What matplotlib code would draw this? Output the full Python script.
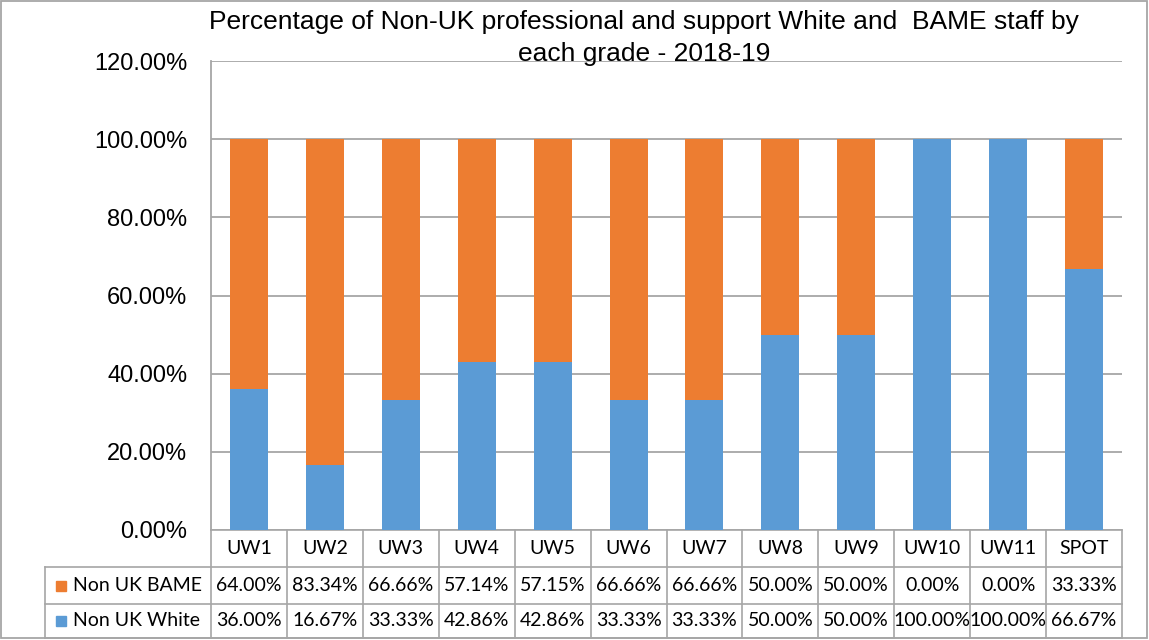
import matplotlib
matplotlib.use("Agg")
import matplotlib.pyplot as plt
import matplotlib.transforms as mtransforms
from matplotlib.patches import Rectangle
from matplotlib.lines import Line2D
from matplotlib.ticker import FuncFormatter

# data (percent)
grades = ["UW1", "UW2", "UW3", "UW4", "UW5", "UW6", "UW7", "UW8", "UW9", "UW10", "UW11", "SPOT"]
non_uk_white = [36.00, 16.67, 33.33, 42.86, 42.86, 33.33, 33.33, 50.00, 50.00, 100.00, 100.00, 66.67]
non_uk_bame = [64.00, 83.34, 66.66, 57.14, 57.15, 66.66, 66.66, 50.00, 50.00, 0.00, 0.00, 33.33]
series_names = ["Non UK BAME", "Non UK White"]
title = "Percentage of Non-UK professional and support White and  BAME staff by\neach grade - 2018-19"

BLUE = "#5b9bd5"
ORANGE = "#ed7d31"
GRID = "#a6a6a6"

W, H = 1149, 640
fig = plt.figure(figsize=(W / 100, H / 100), dpi=100)

# plot area in pixels (left, top, right, bottom)
L, T, R, B = 211, 61, 1122, 530
ax = fig.add_axes([L / W, (H - B) / H, (R - L) / W, (B - T) / H])

x = range(len(grades))
white = [v / 100 for v in non_uk_white]
bame = [v / 100 for v in non_uk_bame]
ax.bar(x, white, width=0.5, color=BLUE, zorder=3)
ax.bar(x, bame, width=0.5, bottom=white, color=ORANGE, zorder=3)

ax.set_xlim(-0.5, len(grades) - 0.5)
ax.set_ylim(0, 1.2)
ax.set_yticks([i * 0.2 for i in range(7)])
ax.yaxis.set_major_formatter(FuncFormatter(lambda v, p: f"{v * 100:.2f}%"))
ax.tick_params(axis="y", length=0, pad=17, labelsize=17)
for lab in ax.get_yticklabels():
    lab.set_fontfamily("Liberation Sans")
ax.set_xticks([])
ax.grid(axis="y", color=GRID, linewidth=1.3, zorder=0)
for side in ["top", "right", "bottom"]:
    ax.spines[side].set_visible(False)
ax.spines["left"].set_color(GRID)
ax.spines["left"].set_linewidth(1.3)

fig.text(644 / W, 1 - 10 / H, title, ha="center", va="top", fontsize=19,
         family="Liberation Sans", linespacing=1.42, zorder=5)

# data table under the plot, drawn by hand
# x in data units (columns follow the bars), y in axes fraction
tr = mtransforms.blended_transform_factory(ax.transData, ax.transAxes)
tra = ax.transAxes
px_y = lambda py: (B - py) / (B - T)
px_x = lambda pxl: (pxl - L) / (R - L)
row_edges = [px_y(530), px_y(567), px_y(604), px_y(638)]
n = len(grades)
line_kw = dict(color=GRID, linewidth=1.2, clip_on=False)

# horizontal lines
ax.add_line(Line2D([-0.5, n - 0.5], [row_edges[0]] * 2, transform=tr, **line_kw))
for ye in row_edges[1:]:
    ax.add_line(Line2D([px_x(45), 1], [ye] * 2, transform=tra, **line_kw))
# vertical lines
for k in range(n + 1):
    ax.add_line(Line2D([k - 0.5] * 2, [row_edges[0], row_edges[3]], transform=tr, **line_kw))
ax.add_line(Line2D([px_x(45)] * 2, [row_edges[1], row_edges[3]], transform=tra, **line_kw))

txt_kw = dict(fontsize=14, family="Lato", va="center", clip_on=False)
yc_cat = (row_edges[0] + row_edges[1]) / 2
for i, g in enumerate(grades):
    ax.text(i, yc_cat, g, transform=tr, ha="center", **txt_kw)

rows = [non_uk_bame, non_uk_white]
colors = [ORANGE, BLUE]
sq = 10
for r, (name, vals, col) in enumerate(zip(series_names, rows, colors)):
    yc = (row_edges[r + 1] + row_edges[r + 2]) / 2
    for i, v in enumerate(vals):
        ax.text(i, yc, f"{v:.2f}%", transform=tr, ha="center", **txt_kw)
    ax.text(px_x(73), yc, name, transform=tra, ha="left", **txt_kw)
    ax.add_patch(Rectangle((px_x(56), yc - sq / 2 / (B - T)), sq / (R - L), sq / (B - T),
                           color=col, transform=tra, clip_on=False))

# outer border of the chart
fig.patches.append(Rectangle((1 / W, 2 / H), 1146 / W, 637 / H, fill=False,
                             edgecolor=GRID, linewidth=1.3, transform=fig.transFigure))

fig.savefig("out.png", dpi=100)
